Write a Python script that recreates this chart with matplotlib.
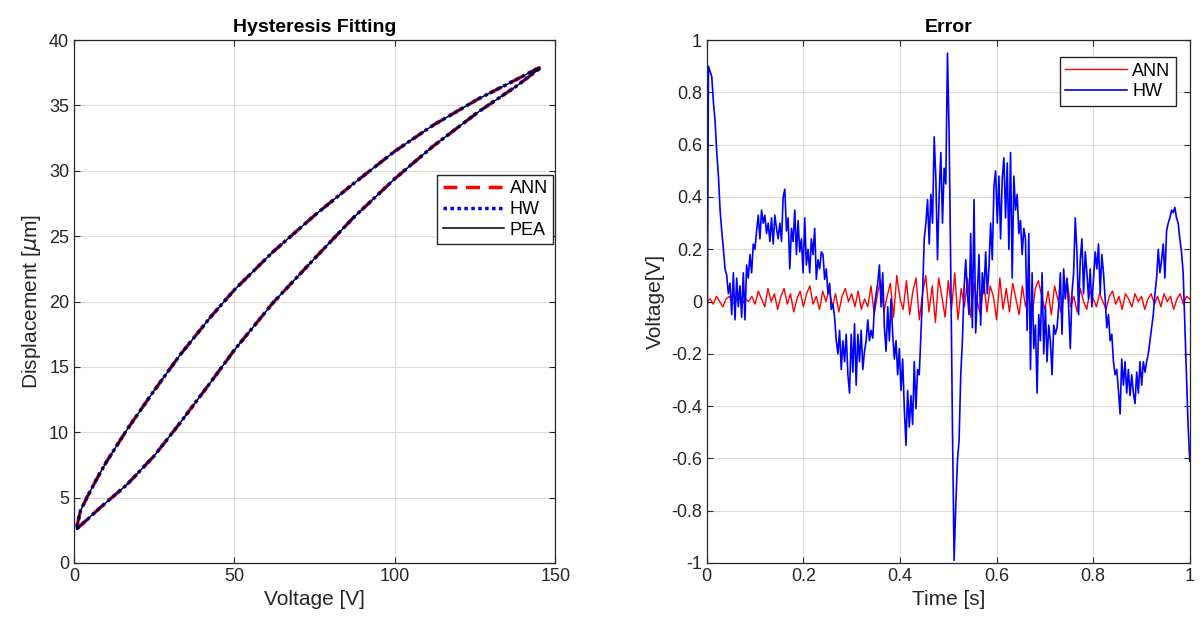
import matplotlib.pyplot as plt
import numpy as np

# --- donnees ---
# boucle d'hysteresis (branche montante puis descendante)
volt_up = [0.8, 4, 8, 16.5, 25, 33, 42.5, 50, 62, 75, 87, 100, 112, 126, 138, 145]
disp_up = [2.6, 3.3, 4.2, 6.0, 8.2, 10.7, 13.8, 16.3, 19.9, 23.3, 26.4, 29.4, 31.9, 34.5, 36.5, 37.8]
volt_down = [145, 138, 126, 112, 100, 87, 75, 62, 50, 42.5, 33, 25, 16.5, 10, 7, 4, 2, 0.8]
disp_down = [37.9, 37.0, 35.5, 33.5, 31.5, 29.0, 26.6, 23.8, 20.9, 18.8, 15.9, 13.2, 10.2, 7.7, 6.4, 5.0, 4.0, 2.7]

# erreur HW (echantillons reguliers sur [0, 1] s)
err_hw = [
    -0.50, 0.90, 0.88, 0.86, 0.76, 0.69, 0.57, 0.48, 0.35, 0.27, 0.20, 0.125,
    0.10, 0.03, 0.07, -0.05, 0.11, -0.07, 0.09, -0.02, 0.06, -0.06, 0.11, -0.07,
    0.14, 0.09, 0.18, 0.11, 0.22, 0.20, 0.27, 0.33, 0.24, 0.35, 0.30, 0.33,
    0.26, 0.30, 0.23, 0.32, 0.22, 0.33, 0.28, 0.24, 0.30, 0.23, 0.40, 0.43,
    0.27, 0.32, 0.125, 0.28, 0.23, 0.35, 0.18, 0.31, 0.19, 0.24, 0.11, 0.32,
    0.14, 0.20, 0.11, 0.24, 0.18, 0.28, 0.085, 0.16, 0.125, 0.19, 0.18, 0.085,
    0.125, 0.03, 0.07, -0.03, -0.01, -0.06, -0.15, -0.20, -0.11, -0.26, -0.15, -0.23,
    -0.125, -0.28, -0.35, -0.125, -0.27, -0.085, -0.32, -0.125, -0.23, -0.11, -0.26, -0.19,
    -0.15, -0.07, -0.15, -0.11, -0.14, -0.02, 0.03, 0.07, 0.14, -0.02, 0.11, -0.10,
    -0.19, -0.02, -0.15, 0.01, -0.125, -0.22, -0.15, -0.28, -0.18, -0.34, -0.22, -0.41,
    -0.55, -0.34, -0.48, -0.36, -0.47, -0.23, -0.41, -0.26, -0.28, -0.125, 0.03, 0.24,
    0.30, 0.39, 0.22, 0.41, 0.30, 0.63, 0.47, 0.16, 0.41, 0.57, 0.30, 0.51,
    0.45, 0.95, 0.64, 0.11, -0.48, -0.99, -0.78, -0.61, -0.53, -0.28, -0.15, 0.05,
    0.16, 0.03, -0.05, 0.26, -0.10, 0.39, -0.12, 0.03, 0.18, -0.09, 0.11, 0.03,
    0.19, 0.03, 0.13, 0.30, 0.16, 0.44, 0.50, 0.30, 0.48, 0.24, 0.47, 0.55,
    0.32, 0.53, 0.20, 0.57, 0.09, 0.48, 0.35, 0.41, 0.26, 0.31, 0.18, 0.28,
    0.24, -0.11, 0.26, -0.26, 0.11, -0.18, -0.09, -0.35, -0.05, -0.15, 0.11, -0.20,
    -0.02, -0.23, -0.09, -0.15, -0.28, -0.09, -0.125, -0.10, -0.02, 0.11, -0.125, 0.125,
    0.01, 0.09, -0.02, -0.18, 0.03, 0.11, 0.32, 0.19, -0.05, 0.16, 0.24, 0.03,
    0.19, 0.11, 0.01, 0.125, -0.02, 0.09, 0.19, 0.125, 0.22, 0.03, 0.18, 0.11,
    0.01, -0.10, -0.05, -0.15, -0.125, -0.23, -0.28, -0.26, -0.34, -0.43, -0.22, -0.32,
    -0.23, -0.35, -0.26, -0.36, -0.28, -0.35, -0.39, -0.27, -0.35, -0.23, -0.32, -0.23,
    -0.27, -0.23, -0.20, -0.15, -0.10, -0.05, 0.03, 0.09, 0.20, 0.11, 0.16, 0.22,
    0.09, 0.27, 0.30, 0.32, 0.35, 0.34, 0.36, 0.32, 0.30, 0.24, 0.19, 0.11,
    -0.09, -0.28, -0.48, -0.61,
]

# erreur ANN
err_ann = [
    0.00, 0.01, -0.01, 0.02, 0.00, -0.02, 0.01, 0.02, -0.01, 0.00, 0.03, -0.01, 0.01, 0.00, 0.02,
    -0.01, 0.04, 0.01, -0.02, 0.05, 0.00, 0.03, -0.03, 0.02, 0.05, -0.01, 0.03, -0.04, 0.01, 0.04,
    -0.02, 0.03, 0.06, -0.01, 0.02, -0.03, 0.04, 0.00, 0.05, -0.02, 0.03, -0.04, 0.02, 0.05, 0.00,
    0.03, -0.02, 0.04, -0.03, 0.01,
    -0.02, 0.06, -0.05, 0.03, 0.08, -0.04, 0.02, 0.07, -0.06, 0.10, 0.01, -0.03, 0.08, -0.05, 0.04,
    0.09, -0.07, 0.03, 0.10, -0.04, 0.06, -0.08, 0.09, 0.02, -0.06, 0.08, -0.03, 0.11, -0.07, 0.05,
    -0.02, 0.09, -0.06, 0.07, 0.00, -0.05, 0.08, -0.04, 0.06, 0.02, -0.07, 0.09, -0.03, 0.05,
    -0.04, 0.07, 0.01, -0.05, 0.06, -0.02, 0.03, -0.06, 0.05, 0.08, 0.02, -0.03, 0.04, -0.05, 0.06,
    0.01, -0.04, 0.03, 0.07, -0.02, 0.02, -0.04, 0.05, 0.00, -0.03, 0.04, 0.01,
    -0.02, 0.03, 0.00, -0.03, 0.02, 0.04, -0.01, 0.02, -0.03, 0.03, 0.01, -0.02, 0.03, 0.00, 0.02,
    -0.03, 0.01, 0.03, -0.01, 0.02, -0.02, 0.03, 0.00, 0.02, -0.03, 0.01, 0.03, -0.01, 0.02, 0.01,
]

plt.rcParams['font.family'] = ['Liberation Sans', 'DejaVu Sans']
plt.rcParams['mathtext.fontset'] = 'dejavusans'

GRIS = '#262626'
GRILLE = '#dcdcdc'

volt = volt_up + volt_down
disp = disp_up + disp_down
t_hw = np.linspace(0, 1, len(err_hw))
t_ann = np.linspace(0, 1, len(err_ann))

fig = plt.figure(figsize=(12, 6.33), dpi=100)
ax1 = fig.add_axes([0.0617, 0.1106, 0.401, 0.826])
ax2 = fig.add_axes([0.589, 0.1106, 0.4025, 0.826])

# --- panneau gauche ---
ax1.plot(volt, disp, color='red', linestyle=(0, (4, 2.5)), linewidth=2.5, label='ANN')
ax1.plot(volt, disp, color='blue', linestyle=(0, (1, 1)), linewidth=2.5, label='HW')
ax1.plot(volt, disp, color='black', linewidth=1.1, label='PEA')
ax1.set_xlim(0, 150)
ax1.set_ylim(0, 40)
ax1.set_xticks([0, 50, 100, 150])
ax1.set_yticks(range(0, 41, 5))
ax1.set_xlabel('Voltage [V]', fontsize=15, color=GRIS)
ax1.set_ylabel(r'Displacement [$\mu$m]', fontsize=15, color=GRIS)
ax1.set_title('Hysteresis Fitting', fontsize=14, fontweight='bold', color='black')
ax1.legend(loc='upper right', bbox_to_anchor=(0.996, 0.742), fontsize=13,
           frameon=True, fancybox=False, edgecolor=GRIS, framealpha=1,
           handlelength=3.4, borderpad=0.3, labelspacing=0.2, handletextpad=0.3,
           borderaxespad=0)

# --- panneau droit ---
ax2.plot(t_ann, err_ann, color='red', linewidth=1.0, label='ANN')
ax2.plot(t_hw, err_hw, color='blue', linewidth=1.2, label='HW')
ax2.set_xlim(0, 1)
ax2.set_ylim(-1, 1)
ax2.set_xticks([0, 0.2, 0.4, 0.6, 0.8, 1])
ax2.set_xticklabels(['0', '0.2', '0.4', '0.6', '0.8', '1'])
ax2.set_yticks(np.arange(-1, 1.01, 0.2))
ax2.set_yticklabels(['-1', '-0.8', '-0.6', '-0.4', '-0.2', '0', '0.2', '0.4', '0.6', '0.8', '1'])
ax2.set_xlabel('Time [s]', fontsize=15, color=GRIS)
ax2.set_ylabel('Voltage[V]', fontsize=15, color=GRIS)
ax2.set_title('Error', fontsize=14, fontweight='bold', color='black')
ax2.legend(loc='upper right', bbox_to_anchor=(0.971, 0.9675), fontsize=13,
           frameon=True, fancybox=False, edgecolor=GRIS, framealpha=1,
           handlelength=3.4, borderpad=0.3, labelspacing=0.2, handletextpad=0.3,
           borderaxespad=0)

for ax in (ax1, ax2):
    ax.grid(True, color=GRILLE, linewidth=0.8)
    ax.set_axisbelow(True)
    ax.tick_params(direction='in', top=True, right=True, labelsize=13,
                   colors=GRIS, length=4, width=0.8)
    for s in ax.spines.values():
        s.set_color(GRIS)
        s.set_linewidth(0.9)

plt.savefig('out.png', dpi=100)
